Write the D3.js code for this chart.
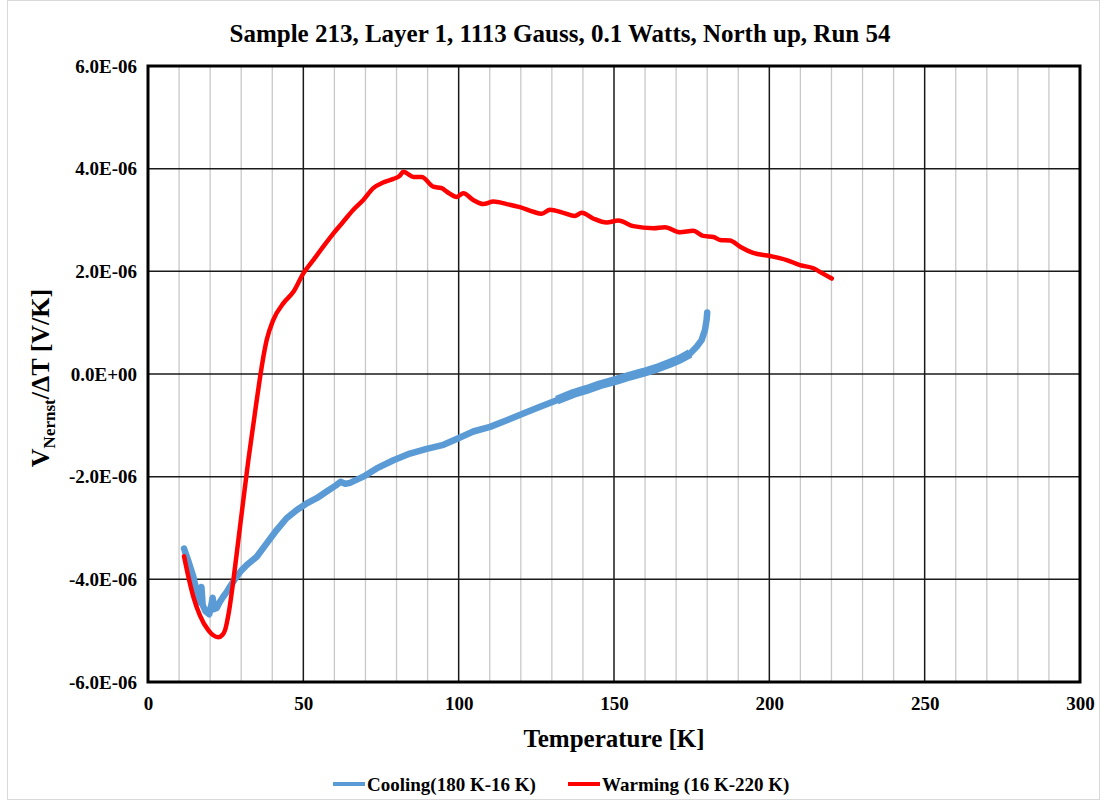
<!DOCTYPE html>
<html>
<head>
<meta charset="utf-8">
<script src="https://cdn.jsdelivr.net/npm/d3@7"></script>
<style>
  html, body { margin: 0; padding: 0; background: #fff; }
  svg { display: block; }
  text { font-family: "Liberation Serif", "Times New Roman", serif; font-weight: bold; fill: #000; }
</style>
</head>
<body>
<svg id="chart" width="1107" height="806"></svg>
<script>
// Nernst signal vs temperature, cooling and warming sweeps
const chartTitle = "Sample 213, Layer 1, 1113 Gauss, 0.1 Watts, North up, Run 54";

const xTicks = [0, 50, 100, 150, 200, 250, 300];
const xMinor = d3.range(0, 301, 10);
const yTicks = [-6e-6, -4e-6, -2e-6, 0, 2e-6, 4e-6, 6e-6];
const yTickLabels = ["-6.0E-06", "-4.0E-06", "-2.0E-06", "0.0E+00", "2.0E-06", "4.0E-06", "6.0E-06"];

const seriesNames = ["Cooling(180 K-16 K)", "Warming (16 K-220 K)"];

// Cooling sweep: temperature [K] and V/ΔT [µV/K]
const coolT = [11.6, 13.0, 14.6, 15.7, 16.6, 17.2, 17.6, 18.5, 19.7, 20.4, 20.8, 21.3, 22.1, 23.0, 24.2, 25.3,
  26.4, 28.5, 30.0, 31.8, 35.0, 38.2, 41.4, 44.6, 47.9, 51.1, 54.3, 57.5, 60.5, 62.0, 63.5, 65.0, 69.3,
  73.6, 79.0, 84.3, 89.7, 95.1, 99.9, 104.7, 110.1, 115.5, 120.8, 126.2, 131.6, 136.9, 141.2, 145.5,
  150.9, 155.1, 159.4, 163.7, 168.0, 171.2, 174.5, 176.6, 178.2, 179.3, 179.8, 180.0];
const coolV = [-3.40, -3.65, -3.95, -4.25, -4.45, -4.15, -4.50, -4.62, -4.68, -4.50, -4.36, -4.58, -4.56, -4.45, -4.34, -4.25,
  -4.14, -3.95, -3.83, -3.72, -3.56, -3.30, -3.04, -2.81, -2.65, -2.52, -2.42, -2.29, -2.17, -2.10, -2.14, -2.12, -2.00,
  -1.84, -1.68, -1.55, -1.46, -1.38, -1.25, -1.12, -1.03, -0.90, -0.77, -0.64, -0.51, -0.38, -0.30, -0.21,
  -0.12, -0.04, 0.03, 0.11, 0.21, 0.29, 0.40, 0.53, 0.66, 0.86, 1.05, 1.20];

// Temperature range where the cooling trace is noisiest (drawn as a wider band)
const coolNoisyRange = [128, 176];

// Warming sweep: temperature [K] and V/ΔT [µV/K]
const warmT = [11.6, 13.0, 14.6, 16.7, 19.4, 21.0, 22.6, 24.0, 24.8, 26.0, 27.5, 29.1, 30.7, 32.3, 34.1,
  35.0, 36.6, 38.2, 40.3, 43.6, 46.8, 50.0, 53.2, 56.4, 59.7, 62.9, 66.1, 69.3, 72.5, 75.7, 79.0, 81.0,
  82.2, 85.4, 88.1, 91.8, 94.5, 96.2, 99.4, 101.5, 104.7, 107.9, 111.2, 115.5, 119.7, 124.0, 126.7,
  129.4, 133.7, 137.4, 139.6, 143.3, 147.6, 151.4, 156.2, 162.7, 166.4, 171.2, 175.5, 178.7, 182.0,
  184.1, 187.3, 190.6, 194.8, 200.2, 205.6, 209.9, 214.2, 217.4, 220.1];
const warmV = [-3.55, -3.95, -4.34, -4.70, -4.99, -5.09, -5.13, -5.08, -4.99, -4.65, -4.01, -3.23, -2.45, -1.68, -0.90,
  -0.51, 0.14, 0.66, 1.05, 1.38, 1.60, 1.96, 2.22, 2.48, 2.74, 2.97, 3.20, 3.39, 3.62, 3.73, 3.80, 3.86,
  3.94, 3.84, 3.84, 3.65, 3.62, 3.55, 3.45, 3.52, 3.39, 3.31, 3.36, 3.31, 3.25, 3.16, 3.12,
  3.20, 3.14, 3.08, 3.14, 3.03, 2.95, 2.99, 2.88, 2.84, 2.86, 2.76, 2.79, 2.69, 2.67,
  2.61, 2.60, 2.48, 2.36, 2.30, 2.22, 2.12, 2.06, 1.95, 1.86];

const colors = ["#5B9BD5", "#FF0000"];

const svg = d3.select("#chart");
const plot = { left: 148, right: 1080, top: 66, bottom: 682 };

const x = d3.scaleLinear().domain([0, 300]).range([plot.left, plot.right]);
const y = d3.scaleLinear().domain([-6e-6, 6e-6]).range([plot.bottom, plot.top]);

// outer chart frame
svg.append("rect")
  .attr("x", 7.5).attr("y", 0.5).attr("width", 1092).attr("height", 799)
  .attr("fill", "#fff").attr("stroke", "#d9d9d9").attr("stroke-width", 1);

// minor vertical gridlines
svg.append("g").selectAll("line")
  .data(xMinor.filter(d => d % 50 !== 0))
  .join("line")
  .attr("x1", d => x(d)).attr("x2", d => x(d))
  .attr("y1", plot.top).attr("y2", plot.bottom)
  .attr("stroke", "#c8c8c8").attr("stroke-width", 1.3);

// major vertical gridlines
svg.append("g").selectAll("line")
  .data(xTicks.filter(d => d > 0 && d < 300))
  .join("line")
  .attr("x1", d => x(d)).attr("x2", d => x(d))
  .attr("y1", plot.top).attr("y2", plot.bottom)
  .attr("stroke", "#1a1a1a").attr("stroke-width", 1.5);

// horizontal gridlines
svg.append("g").selectAll("line")
  .data(yTicks.slice(1, -1))
  .join("line")
  .attr("x1", plot.left).attr("x2", plot.right)
  .attr("y1", d => y(d)).attr("y2", d => y(d))
  .attr("stroke", "#1a1a1a").attr("stroke-width", 1.5);

// axes (labels only; frame drawn below)
const xAxis = d3.axisBottom(x).tickValues(xTicks).tickSize(0).tickPadding(15).tickFormat(d3.format("d"));
const gx = svg.append("g").attr("transform", `translate(0,${plot.bottom})`).call(xAxis);
gx.select(".domain").remove();
gx.selectAll("text").attr("font-size", 19).attr("font-family", "Liberation Serif, serif").attr("font-weight", "bold").attr("fill", "#000");

const yAxis = d3.axisLeft(y).tickValues(yTicks).tickSize(0).tickPadding(11)
  .tickFormat((d, i) => yTickLabels[i]);
const gy = svg.append("g").attr("transform", `translate(${plot.left},0)`).call(yAxis);
gy.select(".domain").remove();
gy.selectAll("text").attr("font-size", 19).attr("font-family", "Liberation Serif, serif").attr("font-weight", "bold").attr("fill", "#000");

// series
const coolData = coolT.map((t, i) => [t, coolV[i] * 1e-6]);
const warmData = warmT.map((t, i) => [t, warmV[i] * 1e-6]);

svg.append("clipPath").attr("id", "plotclip").append("rect")
  .attr("x", plot.left).attr("y", plot.top)
  .attr("width", plot.right - plot.left).attr("height", plot.bottom - plot.top);

const lineGen = d3.line().x(d => x(d[0])).y(d => y(d[1]));

svg.append("path")
  .datum(coolData)
  .attr("d", lineGen.curve(d3.curveLinear))
  .attr("fill", "none").attr("stroke", colors[0]).attr("stroke-width", 6.5)
  .attr("stroke-linejoin", "round").attr("stroke-linecap", "round")
  .attr("clip-path", "url(#plotclip)");

// wider band over the noisy high-temperature stretch of the cooling trace
svg.append("path")
  .datum(coolData.filter(d => d[0] >= coolNoisyRange[0] && d[0] <= coolNoisyRange[1]))
  .attr("d", lineGen.curve(d3.curveLinear))
  .attr("fill", "none").attr("stroke", colors[0]).attr("stroke-width", 9)
  .attr("stroke-linejoin", "round").attr("stroke-linecap", "butt")
  .attr("clip-path", "url(#plotclip)");

svg.append("path")
  .datum(warmData)
  .attr("d", d3.line().x(d => x(d[0])).y(d => y(d[1])).curve(d3.curveMonotoneX))
  .attr("fill", "none").attr("stroke", colors[1]).attr("stroke-width", 4.5)
  .attr("stroke-linejoin", "round").attr("stroke-linecap", "round")
  .attr("clip-path", "url(#plotclip)");

// plot frame
svg.append("rect")
  .attr("x", plot.left).attr("y", plot.top)
  .attr("width", plot.right - plot.left).attr("height", plot.bottom - plot.top)
  .attr("fill", "none").attr("stroke", "#000").attr("stroke-width", 3);

// title
svg.append("text")
  .attr("x", 560).attr("y", 42)
  .attr("text-anchor", "middle").attr("font-size", 25)
  .text(chartTitle);

// axis titles
svg.append("text")
  .attr("x", (plot.left + plot.right) / 2).attr("y", 747)
  .attr("text-anchor", "middle").attr("font-size", 25)
  .text("Temperature [K]");

const yt = svg.append("text")
  .attr("transform", `translate(49,378) rotate(-90)`)
  .attr("text-anchor", "middle").attr("font-size", 26);
yt.append("tspan").text("V");
yt.append("tspan").attr("font-size", 17).attr("dy", 6).text("Nernst");
yt.append("tspan").attr("dy", -6).text("/\u0394T [V/K]");

// legend
const legendItems = [
  { name: seriesNames[0], color: colors[0], x0: 333 },
  { name: seriesNames[1], color: colors[1], x0: 568 }
];
const lg = svg.append("g");
legendItems.forEach(it => {
  lg.append("line")
    .attr("x1", it.x0).attr("x2", it.x0 + 32)
    .attr("y1", 784).attr("y2", 784)
    .attr("stroke", it.color).attr("stroke-width", 4);
  lg.append("text")
    .attr("x", it.x0 + 34).attr("y", 791)
    .attr("font-size", 19)
    .text(it.name);
});
</script>
</body>
</html>
